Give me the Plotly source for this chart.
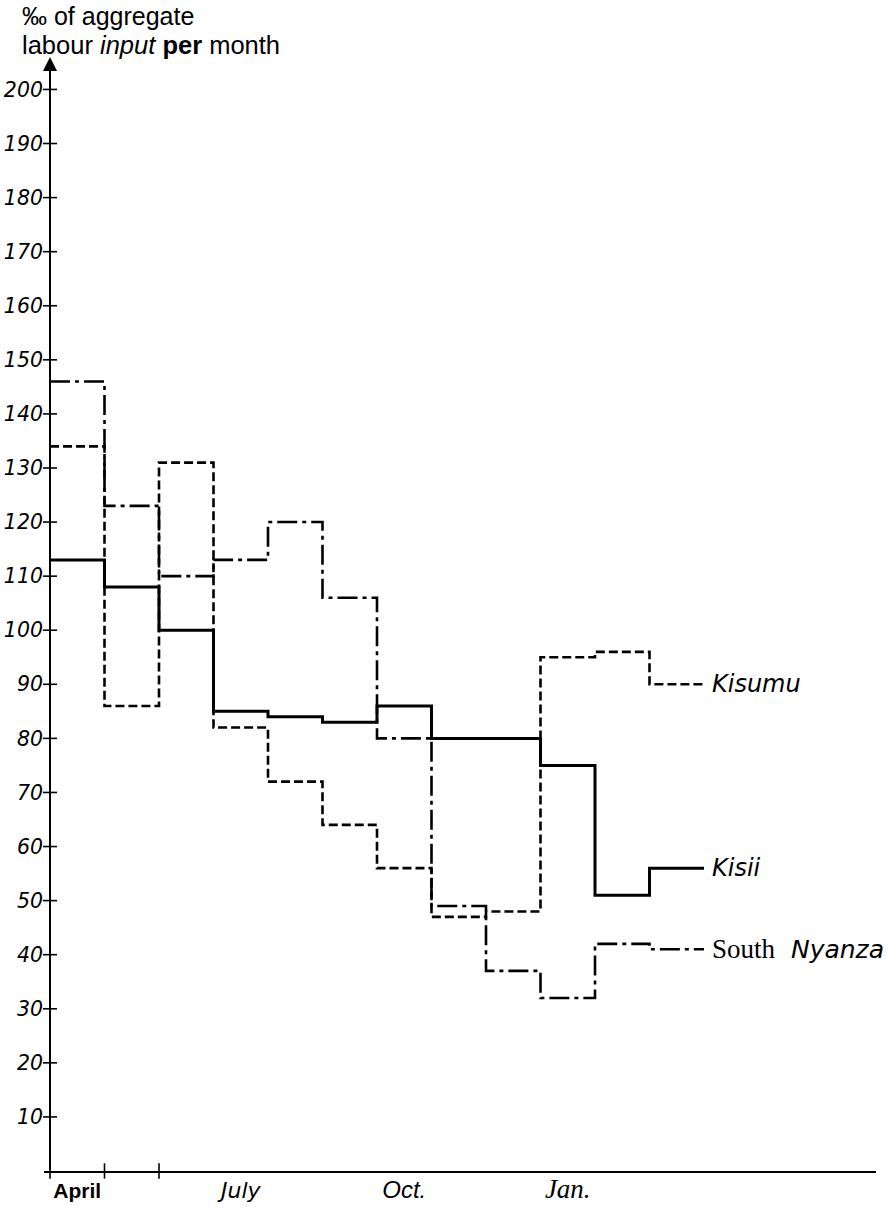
import plotly.graph_objects as go

# ---------------- data ----------------
months = ["April", "May", "June", "July", "August", "September",
          "October", "November", "December", "January", "February", "March"]
kisii = [113, 108, 100, 85, 84, 83, 86, 80, 80, 75, 51, 56]
kisumu = [134, 86, 131, 82, 72, 64, 56, 47, 48, 95, 96, 90]
south_nyanza = [146, 123, 110, 113, 120, 106, 80, 49, 37, 32, 42, 41]

y_ticks = list(range(10, 201, 10))
x_tick_months = [0, 3, 6, 9]
x_tick_labels = ["April", "July", "Oct.", "Jan."]
x_axis_marks = [0, 1, 2]
y_arrow_top = 206


def step_xy(vals):
    x = list(range(len(vals) + 1))
    y = list(vals) + [vals[-1]]
    return x, y


fig = go.Figure()

styles = [
    ("Kisumu", kisumu, dict(color="black", width=2.6, dash="9px,4px")),
    ("Kisii", kisii, dict(color="black", width=3)),
    ("South Nyanza", south_nyanza, dict(color="black", width=2.6, dash="20px,5px,4px,5px")),
]
for name, vals, line in styles:
    x, y = step_xy(vals)
    fig.add_trace(go.Scatter(x=x, y=y, mode="lines", line=dict(shape="hv", **line),
                             name=name, showlegend=False, hoverinfo="skip"))

# crossing tick marks on the y axis
fig.add_trace(go.Scatter(x=[0] * len(y_ticks), y=y_ticks, mode="markers",
                         marker=dict(symbol="line-ew", size=10,
                                     line=dict(color="black", width=1.6)),
                         showlegend=False, hoverinfo="skip", cliponaxis=False))
# crossing tick marks on the x axis
fig.add_trace(go.Scatter(x=x_axis_marks, y=[0] * len(x_axis_marks), mode="markers",
                         marker=dict(symbol="line-ns", size=11,
                                     line=dict(color="black", width=1.6)),
                         showlegend=False, hoverinfo="skip", cliponaxis=False))

# y axis with arrow
fig.add_annotation(x=0, y=y_arrow_top, ax=0, ay=0, xref="x", yref="y",
                   axref="x", ayref="y", text="", showarrow=True,
                   arrowhead=2, arrowsize=1.4, arrowwidth=2, arrowcolor="black",
                   standoff=0, startstandoff=0)

# series labels
sans = "DejaVu Sans"
fig.add_annotation(x=len(months), y=kisumu[-1], xref="x", yref="y", xanchor="left",
                   xshift=6, text="Kisumu", showarrow=False,
                   font=dict(family=sans, size=24, style="italic", color="black"))
fig.add_annotation(x=len(months), y=kisii[-1], xref="x", yref="y", xanchor="left",
                   xshift=6, text="Kisii", showarrow=False,
                   font=dict(family=sans, size=24, style="italic", color="black"))
fig.add_annotation(x=len(months), y=south_nyanza[-1], xref="x", yref="y", xanchor="left",
                   xshift=6,
                   text="<span style='font-family:Liberation Serif;font-style:normal;font-size:27px'>South</span>\u00a0\u00a0Nyanza",
                   showarrow=False,
                   font=dict(family=sans, size=25, style="italic", color="black"))

# axis title (top left), two lines
fig.add_annotation(xref="paper", yref="paper", x=-0.029, y=1.0368, xanchor="left", yanchor="middle",
                   align="left", showarrow=False, text="‰ of aggregate",
                   font=dict(family="Liberation Sans", size=25, color="black"))
fig.add_annotation(xref="paper", yref="paper", x=-0.029, y=1.0105, xanchor="left", yanchor="middle",
                   align="left", showarrow=False,
                   text="labour <i>input</i> <b>per</b> month",
                   font=dict(family="Liberation Sans", size=25.5, color="black"))

x_ticktext = [
    "<span style='font-family:Liberation Sans;font-weight:bold;font-size:21px'>" + x_tick_labels[0] + "</span>",
    "<span style='font-family:DejaVu Sans;font-style:italic;font-size:22px'>" + x_tick_labels[1] + "</span>",
    "<span style='font-family:Liberation Sans;font-style:italic;font-size:24px'>" + x_tick_labels[2] + "</span>",
    "<span style='font-family:Liberation Serif;font-style:italic;font-size:27px'>" + x_tick_labels[3] + "</span>",
]

fig.update_layout(
    width=895, height=1209,
    margin=dict(l=44, r=19, t=57, b=38, autoexpand=False),
    paper_bgcolor="white", plot_bgcolor="white",
    xaxis=dict(range=[-0.11, 15.156], showgrid=False, zeroline=False, automargin=False,
               showline=True, linecolor="black", linewidth=2,
               tickvals=[m + 0.5 for m in x_tick_months], ticktext=x_ticktext,
               ticks="", tickfont=dict(family="Liberation Sans", size=21, color="black")),
    yaxis=dict(range=[0, 206], showgrid=False, zeroline=False, showline=False, automargin=False,
               tickvals=y_ticks, ticktext=[str(v) for v in y_ticks], ticks="",
               tickfont=dict(family="DejaVu Sans", size=20.5, style="italic", color="black")),
)

fig.write_html("out.html", config={"displayModeBar": False},
               post_script="document.body.style.margin='0px';")
